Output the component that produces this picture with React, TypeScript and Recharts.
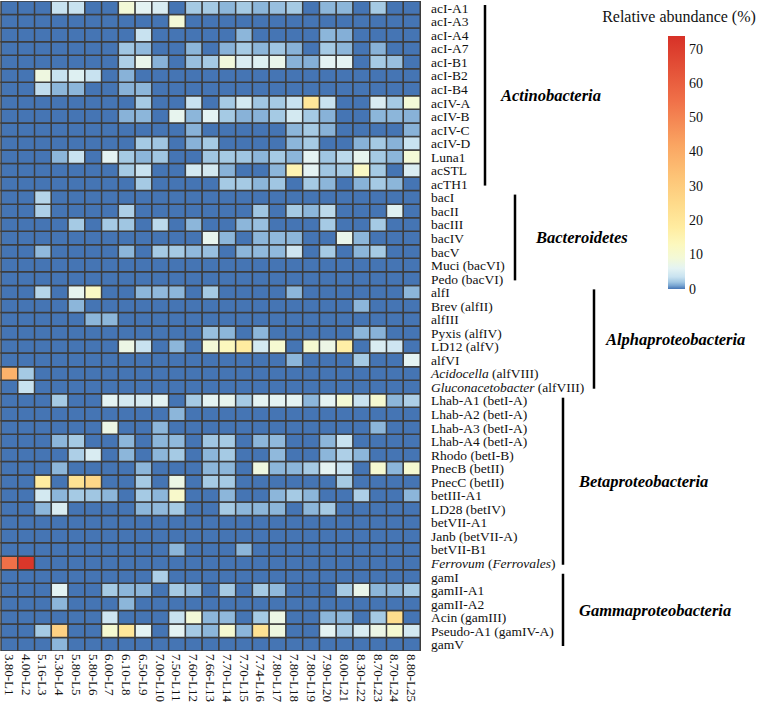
import React from "react"
import { BarChart, Bar, Cell, XAxis, YAxis } from "recharts"

// sample labels (pH - lake)
const columns = [
  "3.80-L1", "4.00-L2", "5.16-L3", "5.30-L4", "5.80-L5", "5.80-L6", "6.00-L7", "6.10-L8", "6.50-L9",
  "7.00-L10", "7.50-L11", "7.60-L12", "7.66-L13", "7.70-L14", "7.70-L15", "7.74-L16", "7.80-L17",
  "7.80-L18", "7.80-L19", "7.90-L20", "8.00-L21", "8.30-L22", "8.70-L23", "8.70-L24", "8.80-L25",
]

// *text* = italic part of the label
const actinoRows = ["acI-A1", "acI-A3", "acI-A4", "acI-A7", "acI-B1", "acI-B2", "acI-B4", "acIV-A", "acIV-B", "acIV-C", "acIV-D", "Luna1", "acSTL", "acTH1"]
const actinoValues = [
  [0, 0, 0, 3.5, 3.5, 0, 0, 9, 6, 5, 0, 2.2, 2.2, 1.5, 2.2, 1.5, 1.8, 2.2, 0, 1.5, 1.5, 0, 2.2, 0, 0],
  [0, 0, 0, 0, 0, 0, 0, 0, 0, 0, 9, 0, 0, 0, 0, 0, 0, 0, 0, 0, 0, 0, 0, 0, 0],
  [0, 0, 0, 0, 0, 0, 0, 0, 3.5, 0, 0, 0, 0, 0, 1.5, 0, 0, 0, 0, 1.5, 1.3, 0, 0, 0, 0],
  [0, 0, 0, 0, 0, 0, 0, 2, 1.6, 0, 0, 1.5, 0, 1.4, 2.2, 1.5, 2, 1.4, 0, 2.2, 1.5, 0, 1.4, 0, 0],
  [0, 0, 0, 0, 0, 0, 0, 2.5, 7, 1.4, 0, 1.8, 2.2, 8.5, 5, 5.5, 7, 1.4, 1.3, 6, 6, 0, 2.2, 1.8, 0],
  [0, 0, 8, 3.5, 5.5, 3.5, 0, 1.4, 0, 0, 0, 0, 0, 0, 0, 0, 0, 0, 0, 0, 0, 0, 0, 0, 0],
  [0, 0, 3.2, 1.5, 1.5, 0, 0, 1.4, 1.5, 0, 0, 0, 0, 0, 0, 0, 0, 0, 0, 0, 0, 0, 0, 0, 0],
  [0, 0, 0, 0, 0, 0, 0, 0, 2.2, 0, 0, 3.5, 0, 2.2, 4.5, 2, 2.2, 3.5, 20, 3.5, 0, 0, 5, 2.2, 9],
  [0, 0, 0, 0, 0, 0, 0, 1.4, 1.5, 0, 6.5, 1.5, 6, 2.2, 1.4, 1.4, 2.2, 4.5, 2.2, 1.4, 0, 0, 1.5, 1.5, 1.4],
  [0, 0, 0, 0, 0, 0, 0, 0, 0, 0, 0, 1.4, 0, 0, 0, 0, 0, 1.5, 2.2, 1.4, 0, 0, 0, 0, 1.4],
  [0, 0, 0, 0, 0, 0, 0, 0, 2.2, 2, 0, 1.4, 2.2, 0, 0, 0, 0, 1.5, 2.2, 0, 0, 1.4, 2.2, 1.4, 3.5],
  [0, 0, 0, 1.5, 3.5, 0, 6, 2.2, 1.5, 2, 0, 0, 2, 2.2, 2, 1.5, 2.2, 1.5, 6, 2, 3, 6.5, 2.2, 1.5, 9],
  [0, 0, 0, 0, 0, 0, 0, 2.2, 3.5, 0, 0, 4.5, 4.5, 1.4, 0, 0, 1.5, 15, 6, 2, 2.2, 12, 2.2, 0, 5],
  [0, 0, 0, 0, 0, 0, 0, 0, 2.2, 0, 0, 0, 0, 2.2, 2.2, 1.5, 2, 0, 2.2, 1.5, 0, 1.4, 2.2, 1.5, 0],
]

const bactRows = ["bacI", "bacII", "bacIII", "bacIV", "bacV", "Muci (bacVI)", "Pedo (bacVI)"]
const bactValues = [
  [0, 0, 2.8, 0, 0, 0, 0, 0, 0, 0, 0, 0, 0, 0, 0, 0, 0, 0, 0, 0, 0, 0, 0, 0, 0],
  [0, 0, 2.5, 0, 0, 0, 0, 2.5, 0, 0, 0, 0, 0, 0, 0, 2, 0, 2.2, 1.5, 3, 0, 0, 0, 5.5, 0],
  [0, 0, 0, 0, 2.2, 0, 2.2, 2, 0, 3, 0, 1.5, 0, 0, 1.5, 1.8, 0, 0, 0, 2.2, 0, 0, 2.2, 0, 0],
  [0, 0, 0, 0, 0, 0, 0, 0, 0, 0, 0, 0, 6.5, 1.5, 0, 1.5, 1.6, 1.5, 0, 0, 7, 1.5, 0, 0, 0],
  [0, 0, 1.6, 0, 0, 0, 0, 1.5, 0, 2.2, 2.2, 1.6, 1.8, 0, 1.5, 1.6, 1.6, 4, 0, 2.2, 0, 1.5, 2.2, 0, 0],
  [0, 0, 0, 0, 0, 0, 0, 0, 0, 0, 0, 0, 0, 0, 0, 0, 0, 0, 0, 0, 0, 0, 0, 0, 0],
  [0, 0, 0, 0, 0, 0, 0, 0, 0, 0, 0, 0, 0, 0, 0, 0, 0, 0, 0, 0, 0, 0, 0, 0, 0],
]

const alphaRows = ["alfI", "Brev (alfII)", "alfIII", "Pyxis (alfIV)", "LD12 (alfV)", "alfVI", "*Acidocella* (alfVIII)", "*Gluconacetobacter* (alfVIII)"]
const alphaValues = [
  [0, 0, 2.8, 0, 6.5, 12, 0, 0, 1.5, 1.6, 1.5, 0, 2.2, 0, 0, 0, 0, 1.5, 0, 0, 0, 0, 0, 0, 1.5],
  [0, 0, 0, 0, 1.5, 0, 0, 0, 0, 0, 0, 0, 0, 0, 0, 0, 0, 0, 0, 0, 0, 1.5, 0, 0, 0],
  [0, 0, 0, 0, 0, 1.5, 1.5, 0, 0, 0, 0, 0, 0, 0, 0, 0, 0, 0, 0, 0, 0, 0, 0, 0, 0],
  [0, 0, 0, 0, 0, 0, 0, 0, 0, 0, 0, 0, 1.8, 1.5, 0, 1.5, 0, 0, 0, 0, 0, 1.5, 1.4, 0, 0],
  [0, 0, 0, 0, 0, 0, 0, 7.5, 3.5, 0, 1.5, 0, 9, 13, 18, 4.5, 10, 0, 10, 7.5, 17, 0, 5, 4, 0],
  [0, 0, 0, 0, 0, 0, 0, 0, 0, 0, 0, 0, 0, 0, 0, 0, 0, 1.5, 0, 0, 0, 2.2, 0, 0, 6],
  [38, 2.2, 0, 0, 0, 0, 0, 0, 0, 0, 0, 0, 0, 0, 0, 0, 0, 0, 0, 0, 0, 0, 0, 0, 0],
  [0, 3.5, 0, 0, 0, 0, 0, 0, 0, 0, 0, 0, 0, 0, 0, 0, 0, 0, 0, 0, 0, 0, 0, 0, 0],
]

const betaRows = ["Lhab-A1 (betI-A)", "Lhab-A2 (betI-A)", "Lhab-A3 (betI-A)", "Lhab-A4 (betI-A)", "Rhodo (betI-B)", "PnecB (betII)", "PnecC (betII)", "betIII-A1", "LD28 (betIV)", "betVII-A1", "Janb (betVII-A)", "betVII-B1", "*Ferrovum* (*Ferrovales*)"]
const betaValues = [
  [0, 0, 0, 2.2, 0, 0, 6, 4.5, 4.5, 6, 0, 2.2, 6, 6.5, 2.2, 6, 6, 6, 1.5, 6, 9.5, 3.5, 10, 1.5, 2.5],
  [0, 0, 0, 0, 0, 0, 0, 0, 0, 0, 1.5, 0, 0, 0, 0, 0, 0, 0, 0, 0, 0, 0, 0, 0, 0],
  [0, 0, 0, 0, 0, 0, 7.5, 0, 0, 1.5, 0, 0, 0, 0, 0, 0, 0, 0, 0, 0, 0, 0, 1.5, 0, 0],
  [0, 0, 0, 1.5, 2.2, 0, 0, 1.5, 0, 1.5, 1.6, 0, 2, 2.2, 0, 1.5, 1.6, 0, 0, 1.5, 3.5, 0, 0, 0, 0],
  [0, 0, 0, 0, 2.5, 5, 0, 1.5, 0, 1.5, 2.2, 0, 1.5, 2.2, 0, 0, 1.6, 0, 0, 1.5, 2.5, 1.5, 0, 0, 0],
  [0, 0, 0, 1.5, 0, 0, 0, 0, 1.5, 0, 0, 0, 1.5, 1.5, 0, 8, 1.5, 1.5, 2.2, 6, 3.5, 0, 10, 1.5, 10],
  [0, 0, 18, 0, 22, 26, 0, 0, 2.2, 0, 7.5, 0, 2.2, 2.2, 0, 0, 0, 0, 0, 0, 2.2, 0, 0, 0, 0],
  [0, 0, 4.5, 1.5, 2.2, 2, 1.5, 0, 2.2, 1.5, 11, 0, 0, 1.5, 0, 0, 1.5, 2.2, 1.5, 0, 0, 2.5, 0, 0, 1.5],
  [0, 0, 1.5, 5, 0, 0, 0, 0, 1.5, 1.6, 2.2, 0, 0, 2.2, 1.5, 1.5, 1.5, 0, 1.5, 2.2, 0, 0, 0, 0, 0],
  [0, 0, 0, 0, 0, 0, 0, 0, 0, 0, 0, 0, 0, 0, 0, 0, 0, 0, 0, 0, 0, 0, 0, 0, 0],
  [0, 0, 0, 0, 0, 0, 0, 0, 0, 0, 0, 0, 0, 0, 0, 0, 0, 0, 0, 0, 0, 0, 0, 0, 0],
  [0, 0, 0, 0, 0, 0, 0, 0, 0, 0, 1.5, 0, 0, 0, 1.5, 0, 0, 0, 0, 0, 0, 0, 0, 0, 0],
  [55, 72, 0, 0, 0, 0, 0, 0, 0, 0, 0, 0, 0, 0, 0, 0, 0, 0, 0, 0, 0, 0, 0, 0, 0],
]

const gammaRows = ["gamI", "gamII-A1", "gamII-A2", "Acin (gamIII)", "Pseudo-A1 (gamIV-A)", "gamV"]
const gammaValues = [
  [0, 0, 0, 0, 0, 0, 0, 0, 0, 2.5, 0, 0, 0, 0, 0, 0, 0, 0, 0, 0, 0, 0, 0, 0, 0],
  [0, 0, 0, 6, 0, 0, 2.2, 1.5, 1.5, 0, 2.2, 1.6, 0, 2.2, 0, 2.2, 1.6, 0, 0, 0, 2.2, 7, 1.5, 1.5, 2.2],
  [0, 0, 0, 1.5, 0, 0, 0, 1.5, 0, 0, 0, 0, 0, 0, 0, 0, 0, 0, 0, 0, 0, 0, 0, 0, 0],
  [0, 0, 0, 0, 0, 0, 4, 0, 0, 0, 3.5, 9, 1.5, 1.6, 0, 2.2, 7.5, 0, 0, 1.5, 1.5, 0, 2.2, 24, 0],
  [0, 0, 2.2, 28, 0, 0, 10, 20, 6, 0, 6, 2.2, 1.5, 10, 1.5, 22, 8, 0, 0, 6, 2.5, 5, 7.5, 10, 4.5],
  [0, 0, 0, 1.5, 0, 0, 0, 0, 0, 0, 0, 0, 0, 0, 0, 0, 0, 0, 0, 0, 0, 0, 0, 0, 0],
]

const legendTicks = [0, 10, 20, 30, 40, 50, 60, 70]
const legendMax = 73.8

// colour ramp: value -> rgb
const colorStops: [number, number[]][] = [
  [0, [69, 117, 180]],
  [1, [120, 165, 210]],
  [2, [160, 198, 226]],
  [3.5, [200, 226, 240]],
  [6, [228, 243, 243]],
  [9, [243, 249, 215]],
  [13, [252, 248, 190]],
  [18, [255, 236, 160]],
  [25, [254, 218, 138]],
  [33, [253, 195, 118]],
  [42, [250, 165, 98]],
  [55, [240, 112, 72]],
  [74, [215, 48, 39]],
]

function colorFor(v: number) {
  let i = 0
  while (i < colorStops.length - 2 && v > colorStops[i + 1][0]) i++
  const [v0, c0] = colorStops[i]
  const [v1, c1] = colorStops[i + 1]
  const t = Math.max(0, Math.min(1, (v - v0) / (v1 - v0)))
  const c = c0.map((a, k) => Math.round(a + (c1[k] - a) * t))
  return `rgb(${c[0]},${c[1]},${c[2]})`
}

// group bracket / label placement (style only)
const groups = [
  { label: "Actinobacteria", rows: actinoRows, values: actinoValues, lineX: 485, textX: 501 },
  { label: "Bacteroidetes", rows: bactRows, values: bactValues, lineX: 515, textX: 536 },
  { label: "Alphaproteobacteria", rows: alphaRows, values: alphaValues, lineX: 594, textX: 606 },
  { label: "Betaproteobacteria", rows: betaRows, values: betaValues, lineX: 563, textX: 579 },
  { label: "Gammaproteobacteria", rows: gammaRows, values: gammaValues, lineX: 563, textX: 579 },
]

const rowNames = groups.flatMap(g => g.rows)
const matrix = groups.flatMap(g => g.values)
const nRows = rowNames.length
const groupStart: Record<number, typeof groups[0]> = {}
{
  let s = 0
  groups.forEach(g => { groupStart[s] = g; s += g.rows.length })
}

const data = columns.map(name => {
  const d: any = { name }
  rowNames.forEach((_, i) => { d[`r${i}`] = 1 })
  return d
})

const FONT = "Liberation Serif, Times New Roman, serif"
const PLOT_H = 650

function rowLabel(name: string) {
  return name.split("*").map((part, k) => (
    <tspan key={k} fontStyle={k % 2 === 1 ? "italic" : "normal"}>{part}</tspan>
  ))
}

function RowTick(props: any) {
  const { x, y, payload } = props
  const i = Math.round(nRows - 0.5 - payload.value)
  const h = PLOT_H / nRows
  const g = groupStart[i]
  return (
    <g>
      <text x={x} y={y} fontSize={13.5} fontFamily={FONT} fill="#111" textAnchor="start" dominantBaseline="central">
        {rowLabel(rowNames[i])}
      </text>
      {g && (
        <g>
          <line x1={g.lineX} x2={g.lineX} y1={y - h / 2 + 4} y2={y - h / 2 + g.rows.length * h - 5} stroke="#000" strokeWidth={2.5} />
          <text x={g.textX} y={y - h / 2 + (g.rows.length * h) / 2} fontSize={16.5} fontFamily={FONT} fontWeight="bold" fontStyle="italic" fill="#000" dominantBaseline="central">
            {g.label}
          </text>
        </g>
      )}
    </g>
  )
}

function ColTick(props: any) {
  const { x, y, payload } = props
  return (
    <text x={x} y={y} transform={`rotate(90 ${x} ${y})`} fontSize={13} fontFamily={FONT} fill="#111" textAnchor="start" dominantBaseline="central">
      {payload.value}
    </text>
  )
}

function ColorBar() {
  const top = 36, bottom = 289, left = 668, w = 17
  const scale = (v: number) => bottom - (v / legendMax) * (bottom - top)
  return (
    <svg width={760} height={702} style={{ position: "absolute", left: 0, top: 0, pointerEvents: "none" }}>
      <defs>
        <linearGradient id="abund" x1="0" y1="1" x2="0" y2="0">
          {colorStops.filter(s => s[0] <= legendMax).map(s => (
            <stop key={s[0]} offset={s[0] / legendMax} stopColor={colorFor(s[0])} />
          ))}
          <stop offset={1} stopColor={colorFor(legendMax)} />
        </linearGradient>
      </defs>
      <text x={679} y={16} fontSize={16} fontFamily={FONT} fill="#111" textAnchor="middle" dominantBaseline="central">
        Relative abundance (%)
      </text>
      <rect x={left} y={top} width={w} height={bottom - top} fill="url(#abund)" />
      {legendTicks.map(t => (
        <text key={t} x={left + w + 4} y={scale(t)} fontSize={14} fontFamily={FONT} fill="#111" dominantBaseline="central">
          {t}
        </text>
      ))}
    </svg>
  )
}

export default function App() {
  const ticks = rowNames.map((_, i) => nRows - 0.5 - i)
  return (
    <div style={{ position: "absolute", left: 0, top: 0, width: 760, height: 702, background: "#fff" }}>
      <BarChart width={760} height={702} data={data} margin={{ top: 1, left: 1, right: 0, bottom: 0 }} barCategoryGap={0} barGap={0}>
        <XAxis dataKey="name" interval={0} height={51} axisLine={false} tickLine={false} tickSize={0} tickMargin={3} tick={<ColTick />} />
        <YAxis type="number" orientation="right" domain={[0, nRows]} ticks={ticks} interval={0} width={340} axisLine={false} tickLine={false} tickSize={0} tickMargin={11} tick={<RowTick />} allowDataOverflow />
        {rowNames.map((_, k) => {
          const i = nRows - 1 - k
          return (
            <Bar key={i} dataKey={`r${i}`} stackId="s" isAnimationActive={false}>
              {columns.map((c, j) => (
                <Cell key={c} fill={colorFor(matrix[i][j])} stroke="#3d3d3d" strokeWidth={1.5} />
              ))}
            </Bar>
          )
        })}
      </BarChart>
      <ColorBar />
    </div>
  )
}
